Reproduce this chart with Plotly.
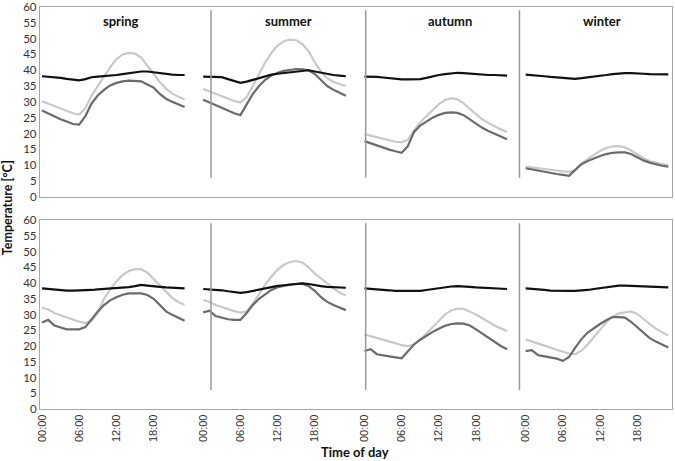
import plotly.graph_objects as go

hours = list(range(24))
seasons = ["spring", "summer", "autumn", "winter"]
tick_labels = ["00:00", "06:00", "12:00", "18:00"]
tick_hours = [0, 6, 12, 18]

# ---- top row ----
top_black_spring = [38.1, 38.0, 37.8, 37.6, 37.3, 37.0, 36.8, 37.2, 37.8, 38.0, 38.1, 38.3, 38.5, 38.8, 39.1, 39.4, 39.6, 39.6, 39.3, 39.0, 38.8, 38.6, 38.5, 38.5]
top_light_spring = [30.2, 29.4, 28.6, 27.8, 27.0, 26.4, 26.0, 28.0, 32.0, 35.0, 37.8, 41.0, 43.5, 45.0, 45.5, 45.3, 44.0, 41.5, 39.0, 36.3, 34.2, 32.6, 31.6, 30.8]
top_dark_spring = [27.3, 26.3, 25.3, 24.5, 23.8, 23.0, 22.8, 25.5, 29.5, 32.0, 33.8, 35.2, 36.0, 36.5, 36.7, 36.7, 36.5, 35.5, 34.5, 32.5, 31.0, 30.0, 29.2, 28.4]

top_black_summer = [38.0, 38.0, 37.9, 37.8, 37.2, 36.5, 36.0, 36.4, 37.0, 37.6, 38.2, 38.6, 38.9, 39.1, 39.4, 39.6, 39.8, 40.0, 39.6, 39.2, 38.8, 38.5, 38.3, 38.1]
top_light_summer = [34.1, 33.3, 32.5, 31.8, 31.0, 30.3, 29.8, 31.5, 35.0, 39.0, 42.5, 45.5, 47.8, 49.2, 49.7, 49.5, 48.3, 46.0, 42.5, 39.5, 37.5, 36.3, 35.6, 35.0]
top_dark_summer = [30.7, 29.8, 28.9, 28.0, 27.2, 26.4, 25.8, 29.0, 32.5, 35.0, 37.0, 38.3, 39.2, 39.8, 40.2, 40.4, 40.3, 40.0, 38.8, 37.0, 35.0, 33.8, 32.8, 31.9]

top_black_autumn = [38.0, 38.0, 37.9, 37.7, 37.5, 37.2, 37.1, 37.1, 37.1, 37.2, 37.6, 38.1, 38.5, 38.8, 39.1, 39.2, 39.1, 38.9, 38.7, 38.6, 38.5, 38.5, 38.4, 38.3]
top_light_autumn = [19.8, 19.3, 18.8, 18.3, 17.8, 17.4, 17.2, 18.0, 21.0, 23.5, 25.5, 27.5, 29.3, 30.6, 31.2, 30.8, 29.5, 27.8, 26.0, 24.5, 23.3, 22.2, 21.3, 20.5]
top_dark_autumn = [17.6, 16.9, 16.2, 15.5, 14.9, 14.4, 13.9, 16.0, 20.5, 22.5, 23.8, 25.0, 25.9, 26.5, 26.7, 26.5, 25.8, 24.5, 23.0, 21.8, 20.8, 19.9, 19.0, 18.2]

top_black_winter = [38.6, 38.5, 38.3, 38.1, 37.9, 37.7, 37.5, 37.4, 37.3, 37.5, 37.7, 38.0, 38.3, 38.5, 38.8, 39.0, 39.1, 39.1, 38.9, 38.9, 38.8, 38.7, 38.7, 38.7]
top_light_winter = [9.5, 9.3, 9.0, 8.8, 8.5, 8.3, 8.0, 7.8, 8.5, 10.5, 12.0, 13.3, 14.5, 15.4, 15.9, 16.0, 15.6, 14.6, 13.3, 12.2, 11.3, 10.7, 10.3, 10.0]
top_dark_winter = [9.0, 8.6, 8.2, 7.8, 7.5, 7.2, 6.9, 6.6, 8.5, 10.3, 11.3, 12.2, 12.9, 13.5, 13.9, 14.0, 14.0, 13.5, 12.5, 11.5, 10.8, 10.2, 9.8, 9.5]

# ---- bottom row ----
bot_black_spring = [38.3, 38.1, 38.0, 37.8, 37.6, 37.6, 37.6, 37.6, 37.8, 38.0, 38.1, 38.3, 38.4, 38.5, 38.7, 39.0, 39.4, 39.2, 38.9, 38.8, 38.6, 38.5, 38.4, 38.3]
bot_light_spring = [32.2, 31.6, 30.5, 29.8, 29.0, 28.3, 27.7, 27.3, 28.0, 30.5, 35.0, 38.0, 40.5, 42.5, 43.8, 44.4, 44.4, 43.3, 41.3, 39.2, 37.0, 35.3, 34.0, 33.0]
bot_dark_spring = [27.5, 28.3, 26.5, 25.8, 25.3, 25.3, 25.3, 26.0, 28.5, 31.0, 33.0, 34.5, 35.5, 36.3, 36.7, 36.7, 36.7, 36.2, 35.0, 33.0, 31.0, 29.9, 29.0, 28.0]

bot_black_summer = [38.1, 38.0, 37.9, 37.7, 37.4, 37.1, 36.9, 37.1, 37.5, 38.0, 38.5, 38.9, 39.1, 39.3, 39.5, 39.7, 39.9, 39.7, 39.3, 39.0, 38.8, 38.7, 38.6, 38.5]
bot_light_summer = [34.6, 34.0, 33.0, 32.3, 31.7, 31.1, 30.6, 31.0, 33.5, 36.5, 39.5, 42.0, 44.3, 45.8, 46.7, 47.0, 46.5, 45.0, 43.0, 41.5, 39.8, 38.3, 37.0, 36.0]
bot_dark_summer = [30.7, 31.2, 29.5, 29.0, 28.5, 28.3, 28.3, 30.5, 33.0, 35.0, 36.5, 37.8, 38.7, 39.2, 39.5, 39.7, 39.8, 39.0, 37.5, 35.5, 34.0, 33.0, 32.2, 31.4]

bot_black_autumn = [38.3, 38.2, 38.1, 37.9, 37.7, 37.5, 37.5, 37.5, 37.5, 37.5, 37.8, 38.1, 38.4, 38.7, 38.9, 39.0, 39.0, 38.8, 38.6, 38.5, 38.4, 38.3, 38.2, 38.1]
bot_light_autumn = [23.7, 23.1, 22.5, 21.9, 21.3, 20.8, 20.3, 20.0, 20.5, 22.0, 24.0, 26.0, 28.0, 30.0, 31.3, 31.9, 31.8, 31.0, 30.0, 28.8, 27.6, 26.5, 25.6, 24.8]
bot_dark_autumn = [18.4, 19.0, 17.4, 17.0, 16.7, 16.4, 16.1, 18.3, 20.5, 22.0, 23.3, 24.5, 25.5, 26.4, 27.0, 27.2, 27.1, 26.5, 25.3, 24.0, 22.5, 21.2, 20.0, 19.0]

bot_black_winter = [38.3, 38.2, 38.0, 37.8, 37.6, 37.5, 37.5, 37.5, 37.5, 37.6, 37.8, 38.1, 38.4, 38.7, 39.0, 39.2, 39.2, 39.1, 38.9, 38.8, 38.7, 38.6, 38.6, 38.6]
bot_light_winter = [22.1, 21.5, 20.9, 20.2, 19.5, 18.8, 18.2, 17.6, 17.4, 18.5, 20.5, 22.8, 25.2, 27.5, 29.3, 30.3, 30.7, 31.0, 30.2, 28.5, 27.0, 25.5, 24.3, 23.3]
bot_dark_winter = [18.4, 18.7, 17.1, 16.8, 16.5, 16.0, 15.3, 16.5, 19.5, 22.2, 24.3, 25.8, 27.0, 28.2, 29.2, 29.2, 29.0, 27.7, 26.0, 24.0, 22.5, 21.4, 20.4, 19.5]

top_rows = {
    "spring": (top_black_spring, top_light_spring, top_dark_spring),
    "summer": (top_black_summer, top_light_summer, top_dark_summer),
    "autumn": (top_black_autumn, top_light_autumn, top_dark_autumn),
    "winter": (top_black_winter, top_light_winter, top_dark_winter),
}
bot_rows = {
    "spring": (bot_black_spring, bot_light_spring, bot_dark_spring),
    "summer": (bot_black_summer, bot_light_summer, bot_dark_summer),
    "autumn": (bot_black_autumn, bot_light_autumn, bot_dark_autumn),
    "winter": (bot_black_winter, bot_light_winter, bot_dark_winter),
}

PERIOD = 26
separator_pos = [27.26, 52.2, 77.0]
label_pos = [12.7, 39.7, 65.8, 90.3]

colors = ["#111111", "#c9c9c9", "#6b6b6b"]
FRAME = "#a6a6a6"

fig = go.Figure()

for rowdata, xa, ya in [(top_rows, "x", "y"), (bot_rows, "x2", "y2")]:
    for k, s in enumerate(seasons):
        xs = [PERIOD * k + h for h in hours]
        for idx in [1, 2, 0]:
            fig.add_trace(go.Scatter(
                x=xs, y=rowdata[s][idx], mode="lines",
                line=dict(color=colors[idx], width=2.2),
                xaxis=xa, yaxis=ya, showlegend=False, hoverinfo="skip"))

for xa, ya in [("x", "y"), ("x2", "y2")]:
    for sp in separator_pos:
        fig.add_shape(type="line", xref=xa, yref=ya, x0=sp, x1=sp, y0=6, y1=59,
                      line=dict(color="#999999", width=1.5))

for k, s in enumerate(seasons):
    fig.add_annotation(x=label_pos[k], y=55.6, xref="x", yref="y", text="<b>%s</b>" % s,
                       showarrow=False, font=dict(family="Lato", size=13, color="#111111"))

tickvals = [PERIOD * k + h for k in range(4) for h in tick_hours]
ticktext = tick_labels * 4

xrange = [-0.32, 101.6]
common_y = dict(range=[0, 60], dtick=5, showgrid=False, zeroline=False, showline=True,
                linecolor=FRAME, linewidth=1.3, mirror=True, ticks="", automargin=False,
                ticklabeloverflow="allow",
                tickfont=dict(family="Lato", size=11.5, color="#333333"))

fig.update_layout(
    width=675, height=461,
    margin=dict(l=40, r=3, t=7, b=52),
    paper_bgcolor="white", plot_bgcolor="white",
    xaxis=dict(domain=[0, 1], range=xrange, anchor="y", showticklabels=False, ticks="", automargin=False,
               showgrid=False, zeroline=False, showline=True, linecolor=FRAME, linewidth=1.3, mirror=True),
    yaxis=dict(domain=[0.528, 1], anchor="x", **common_y),
    xaxis2=dict(domain=[0, 1], range=xrange, anchor="y2", tickvals=tickvals, ticktext=ticktext,
                tickangle=-90, ticks="", automargin=False, ticklabeloverflow="allow",
                tickfont=dict(family="Liberation Sans", size=11, color="#333333"),
                showgrid=False, zeroline=False, showline=True, linecolor=FRAME, linewidth=1.3, mirror=True),
    yaxis2=dict(domain=[0, 0.47], anchor="x2", **common_y),
)

fig.add_annotation(x=-0.052, y=0.5, xref="paper", yref="paper", text="<b>Temperature [°C]</b>",
                   xanchor="center", yanchor="middle",
                   textangle=-90, showarrow=False, font=dict(family="Lato", size=12.5, color="#111111"))
fig.add_annotation(x=0.498, y=-0.107, xref="paper", yref="paper", text="<b>Time of day</b>",
                   xanchor="center", yanchor="middle",
                   showarrow=False, font=dict(family="Lato", size=13, color="#111111"))

fig.write_html("out.html", config={"displayModeBar": False},
               post_script="document.body.style.margin='0';document.body.style.overflow='hidden';")
